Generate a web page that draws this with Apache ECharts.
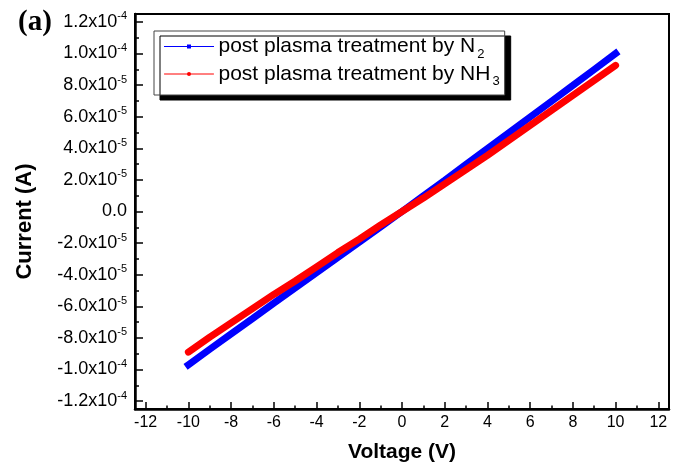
<!DOCTYPE html>
<html>
<head>
<meta charset="utf-8">
<script src="https://cdn.jsdelivr.net/npm/echarts@6/dist/echarts.min.js"></script>
<style>html,body{margin:0;padding:0;background:#fff;}#c{width:680px;height:468px;}</style>
</head>
<body>
<div id="c"></div>
<script>
const voltage = [-10,-9,-8,-7,-6,-5,-4,-3,-2,-1,0,1,2,3,4,5,6,7,8,9,10];
const currentN2 = [-9.7e-5,-8.72e-5,-7.75e-5,-6.78e-5,-5.8e-5,-4.84e-5,-3.87e-5,-2.9e-5,-1.94e-5,-0.97e-5,0,0.99e-5,1.98e-5,2.98e-5,3.98e-5,4.98e-5,5.98e-5,6.98e-5,7.98e-5,8.99e-5,10.0e-5];
const currentNH3 = [-8.9e-5,-7.95e-5,-7.05e-5,-6.15e-5,-5.25e-5,-4.4e-5,-3.5e-5,-2.6e-5,-1.75e-5,-0.85e-5,0,0.85e-5,1.75e-5,2.65e-5,3.55e-5,4.5e-5,5.45e-5,6.4e-5,7.35e-5,8.3e-5,9.25e-5];
const seriesNames = ['N2', 'NH3'];
const legendLabels = {N2: ['post plasma treatment by N', '2'], NH3: ['post plasma treatment by NH', '3']};
const xTicks = [-12,-10,-8,-6,-4,-2,0,2,4,6,8,10,12];
const xMinorTicks = [-11,-9,-7,-5,-3,-1,1,3,5,7,9,11];
const yTicks = [-1.2e-4,-1.0e-4,-8e-5,-6e-5,-4e-5,-2e-5,0,2e-5,4e-5,6e-5,8e-5,1.0e-4,1.2e-4];
const yMinorTicks = [-1.1e-4,-9e-5,-7e-5,-5e-5,-3e-5,-1e-5,1e-5,3e-5,5e-5,7e-5,9e-5,1.1e-4];
const xRange = [-12.5, 12.5];
const yRange = [-1.25e-4, 1.25e-4];

const FONT = 'Liberation Sans, Arial, sans-serif';
function yFmt(v){
  if (Math.abs(v) < 1e-12) return '{b|0.0}';
  const e = Math.floor(Math.log10(Math.abs(v)) + 1e-9);
  const m = (v / Math.pow(10, e)).toFixed(1);
  return '{b|' + m + 'x10}{sup|' + e + '}';
}
const chart = echarts.init(document.getElementById('c'), null, {renderer: 'canvas'});
const axisBase = {type: 'value', splitLine: {show: false}};
chart.setOption({
  animation: false,
  backgroundColor: '#fff',
  title: {text: '(a)', left: 13, top: 3, textStyle: {fontFamily: 'Liberation Serif, Times New Roman, serif', fontWeight: 'bold', fontSize: 29, color: '#000'}},
  grid: {left: 135, top: 14, width: 534, height: 395, show: true, borderColor: '#000', borderWidth: 2, backgroundColor: 'transparent'},
  legend: {
    orient: 'vertical', left: 154, top: 31,
    padding: [5, 5, 7, 10], itemGap: 3,
    backgroundColor: '#fff', borderColor: '#444', borderWidth: 1,
    shadowColor: '#000', shadowBlur: 0, shadowOffsetX: 6, shadowOffsetY: 5,
    itemWidth: 49, itemHeight: 5,
    lineStyle: {width: 1},
    data: seriesNames,
    formatter: function(n){ const l = legendLabels[n]; return '{t|' + l[0] + '}{s|' + l[1] + '}'; },
    textStyle: {
      fontFamily: FONT, color: '#000', fontSize: 21,
      rich: {t: {fontFamily: FONT, fontSize: 21, color: '#000'}, s: {fontFamily: FONT, fontSize: 13, color: '#000', padding: [15, 0, 0, 2]}}
    }
  },
  xAxis: [
    Object.assign({}, axisBase, {
      min: xRange[0], max: xRange[1], position: 'bottom',
      axisLine: {show: true, onZero: false, lineStyle: {color: '#000', width: 2.5}},
      axisTick: {show: true, inside: true, length: 7, customValues: xTicks, lineStyle: {color: '#000', width: 1.5}},
      axisLabel: {customValues: xTicks, fontFamily: FONT, fontSize: 16, color: '#000', margin: 6},
      name: 'Voltage (V)', nameLocation: 'middle', nameGap: 33,
      nameTextStyle: {fontFamily: FONT, fontWeight: 'bold', fontSize: 21, color: '#000'}
    }),
    Object.assign({}, axisBase, {
      min: xRange[0], max: xRange[1], position: 'bottom',
      axisLine: {show: false, onZero: false},
      axisTick: {show: true, inside: true, length: 3.5, customValues: xMinorTicks, lineStyle: {color: '#000', width: 1.5}},
      axisLabel: {show: false}
    })
  ],
  yAxis: [
    Object.assign({}, axisBase, {
      min: yRange[0], max: yRange[1], position: 'left',
      axisLine: {show: true, onZero: false, lineStyle: {color: '#000', width: 2.5}},
      axisTick: {show: true, inside: true, length: 8, customValues: yTicks, lineStyle: {color: '#000', width: 1.5}},
      axisLabel: {customValues: yTicks, formatter: yFmt, margin: 8,
        rich: {b: {fontFamily: FONT, fontSize: 18, color: '#000'}, sup: {fontFamily: FONT, fontSize: 11, color: '#000', padding: [0, 0, 11, 0]}}},
      name: 'Current (A)', nameLocation: 'middle', nameGap: 99, nameRotate: 90,
      nameTextStyle: {fontFamily: FONT, fontWeight: 'bold', fontSize: 22, color: '#000', padding: [0, 20, 0, 0]}
    }),
    Object.assign({}, axisBase, {
      min: yRange[0], max: yRange[1], position: 'left',
      axisLine: {show: false, onZero: false},
      axisTick: {show: true, inside: true, length: 4, customValues: yMinorTicks, lineStyle: {color: '#000', width: 1.5}},
      axisLabel: {show: false}
    })
  ],
  series: [
    {name: 'N2', type: 'line', xAxisIndex: 0, yAxisIndex: 0, data: voltage.map((v, i) => [v, currentN2[i]]),
     symbol: 'rect', symbolSize: 5, showSymbol: false, color: '#0000ff',
     lineStyle: {color: '#0000ff', width: 7, cap: 'square'}},
    {name: 'NH3', type: 'line', xAxisIndex: 0, yAxisIndex: 0, data: voltage.map((v, i) => [v, currentNH3[i]]),
     symbol: 'circle', symbolSize: 5, showSymbol: false, color: '#ff0000',
     lineStyle: {color: '#ff0000', width: 7, cap: 'round'}}
  ]
});
</script>
</body>
</html>
